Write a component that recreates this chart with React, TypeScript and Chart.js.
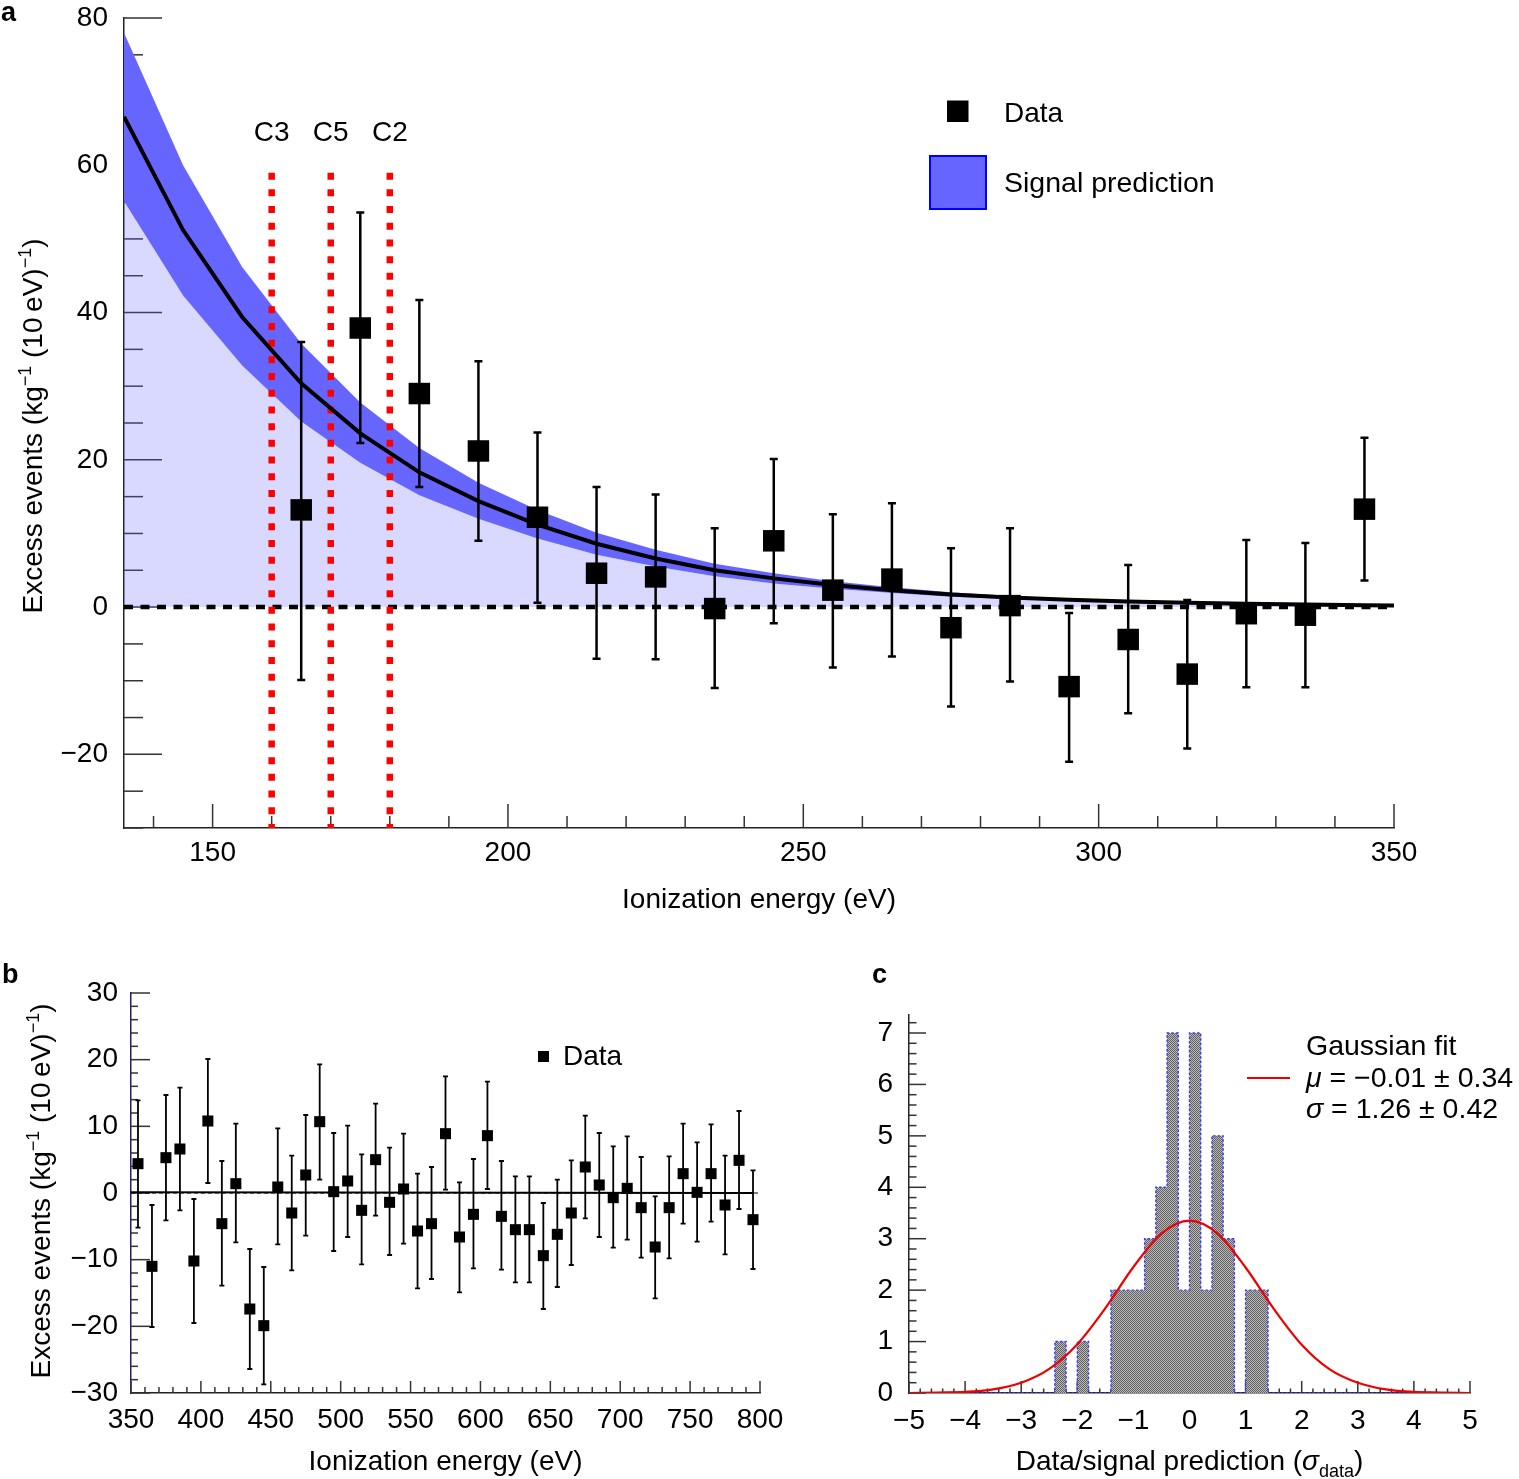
import React, { useEffect, useRef } from 'react';
import Chart from 'chart.js/auto';

const FONT = "'Liberation Sans', Arial, Helvetica, sans-serif";

// ---- panel a: 135-350 eV ----
const energyA = [165, 175, 185, 195, 205, 215, 225, 235, 245, 255, 265, 275, 285, 295, 305, 315, 325, 335, 345];
const excessA = [13.2, 37.9, 29.0, 21.2, 12.2, 4.6, 4.1, -0.2, 9.0, 2.3, 3.8, -2.8, 0.2, -10.8, -4.4, -9.1, -0.9, -1.1, 13.3];
const excessHighA = [36.0, 53.6, 41.7, 33.4, 23.7, 16.3, 15.3, 10.7, 20.1, 12.6, 14.1, 8.0, 10.7, -0.8, 5.7, 0.95, 9.1, 8.7, 23.0];
const excessLowA = [-9.9, 22.3, 16.3, 9.0, 0.6, -7.0, -7.1, -11.0, -2.2, -8.2, -6.7, -13.5, -10.1, -21.0, -14.4, -19.2, -10.9, -10.9, 3.6];

const signalEnergy = [135, 145, 155, 165, 175, 185, 195, 205, 215, 225, 235, 245, 255, 265, 275, 285, 295, 305, 315, 325, 335, 345, 350];
const signalCentral = [66.6, 51.2, 39.4, 30.4, 23.6, 18.3, 14.4, 11.2, 8.6, 6.6, 5.0, 3.9, 3.0, 2.3, 1.7, 1.3, 1.0, 0.75, 0.6, 0.45, 0.35, 0.25, 0.2];
const signalUpper = [78.0, 60.0, 46.2, 35.8, 27.8, 21.6, 16.9, 13.2, 10.1, 7.8, 5.9, 4.6, 3.5, 2.7, 2.0, 1.5, 1.15, 0.9, 0.7, 0.5, 0.4, 0.3, 0.25];
const signalLower = [55.1, 42.3, 32.8, 25.2, 19.6, 15.2, 12.0, 9.3, 7.1, 5.5, 4.2, 3.2, 2.5, 1.9, 1.4, 1.1, 0.85, 0.6, 0.5, 0.4, 0.3, 0.2, 0.15];

const cutEnergies = [160, 170, 180];
const cutNames = ['C3', 'C5', 'C2'];
const cutTop = 59;
const cutLabelLevel = 64.6;

const xTicksA = [150, 200, 250, 300, 350];
const yTicksA = [-20, 0, 20, 40, 60, 80];

// ---- panel b: 350-800 eV ----
const energyB = [355, 365, 375, 385, 395, 405, 415, 425, 435, 445, 455, 465, 475, 485, 495, 505, 515, 525, 535, 545, 555, 565, 575,
  585, 595, 605, 615, 625, 635, 645, 655, 665, 675, 685, 695, 705, 715, 725, 735, 745, 755, 765, 775, 785, 795];
const excessB = [4.4, -11.0, 5.3, 6.6, -10.2, 10.8, -4.6, 1.4, -17.4, -19.9, 0.9, -3.0, 2.7, 10.7, 0.2, 1.8, -2.6, 5.0, -1.4, 0.6, -5.7, -4.6, 8.9,
  -6.6, -3.2, 8.6, -3.5, -5.5, -5.5, -9.4, -6.2, -3.0, 3.9, 1.2, -0.7, 0.7, -2.2, -8.1, -2.2, 2.9, 0.1, 2.9, -1.8, 4.9, -4.0];
const excessHighB = [13.9, -1.8, 14.7, 15.8, -0.9, 20.1, 4.8, 10.4, -8.4, -11.1, 9.7, 5.6, 11.7, 19.3, 9.0, 10.1, 5.8, 13.4, 6.8, 8.9, 2.9, 3.9, 17.5,
  1.6, 5.1, 16.7, 4.8, 2.5, 2.5, -1.5, 2.0, 4.9, 11.6, 9.0, 7.0, 8.5, 5.4, -0.5, 5.5, 10.4, 7.6, 10.3, 5.6, 12.3, 3.4];
const excessLowB = [-5.2, -20.1, -4.1, -2.6, -19.5, 1.5, -13.9, -7.4, -26.4, -28.7, -7.7, -11.6, -6.4, 2.0, -8.7, -6.6, -10.7, -3.4, -9.3, -7.6, -14.3, -12.9, 0.5,
  -14.9, -11.3, 0.6, -11.5, -13.4, -13.4, -17.4, -14.1, -10.8, -3.8, -6.6, -8.2, -7.0, -9.7, -15.8, -9.8, -4.6, -7.3, -4.3, -9.2, -2.4, -11.4];
const signalEnergyB = [350, 795];
const signalB = [0.1, 0.0];

const xTicksB = [350, 400, 450, 500, 550, 600, 650, 700, 750, 800];
const yTicksB = [-30, -20, -10, 0, 10, 20, 30];

// ---- panel c: pull distribution ----
const histEdges = [-2.4, -2.2, -2.0, -1.8, -1.6, -1.4, -1.2, -1.0, -0.8, -0.6, -0.4, -0.2, 0.0, 0.2, 0.4, 0.6, 0.8, 1.0, 1.2];
const histCounts = [1, 0, 1, 0, 0, 2, 2, 2, 3, 4, 7, 2, 7, 2, 5, 3, 0, 2, 2];
const histWidth = 0.2;

const gaussX = [-5, -4.5, -4, -3.5, -3, -2.5, -2, -1.5, -1, -0.5, 0, 0.5, 1, 1.5, 2, 2.5, 3, 3.5, 4, 4.5, 5];
const gaussY = [0.0, 0.01, 0.02, 0.07, 0.2, 0.47, 0.95, 1.65, 2.45, 3.1, 3.35, 3.1, 2.44, 1.64, 0.94, 0.46, 0.2, 0.07, 0.02, 0.01, 0.0];

const xTicksC = [-5, -4, -3, -2, -1, 0, 1, 2, 3, 4, 5];
const yTicksC = [0, 1, 2, 3, 4, 5, 6, 7];

type Part = { t: string; sup?: boolean; sub?: boolean; it?: boolean };

const pts = (xs: number[], ys: number[]) => xs.map((x, i) => ({ x, y: ys[i] }));
const minus = (v: number | string) => {
  const n = Number(v);
  return n < 0 ? '\u2212' + Math.abs(n) : String(n);
};

// cy is the vertical middle of the capitals
function drawText(ctx: CanvasRenderingContext2D, content: string | Part[], x: number, cy: number,
  o: { size?: number; align?: 'left' | 'center'; bold?: boolean; rotate?: boolean } = {}) {
  const size = o.size ?? 28;
  const parts: Part[] = typeof content === 'string' ? [{ t: content }] : content;
  const fontOf = (p: Part) =>
    `${p.it ? 'italic ' : ''}${o.bold ? 'bold ' : ''}${p.sup || p.sub ? Math.round(size * 0.66) : size}px ${FONT}`;
  ctx.save();
  ctx.translate(x, cy);
  if (o.rotate) ctx.rotate(-Math.PI / 2);
  ctx.fillStyle = '#000';
  ctx.textBaseline = 'alphabetic';
  ctx.textAlign = 'left';
  const widths = parts.map((p) => {
    ctx.font = fontOf(p);
    return ctx.measureText(p.t).width;
  });
  const total = widths.reduce((a, b) => a + b, 0);
  let px = o.align === 'center' ? -total / 2 : 0;
  const base = size * 0.36;
  parts.forEach((p, i) => {
    ctx.font = fontOf(p);
    const dy = p.sup ? -size * 0.4 : p.sub ? size * 0.25 : 0;
    ctx.fillText(p.t, px, base + dy);
    px += widths[i];
  });
  ctx.restore();
}

const yTitle: Part[] = [
  { t: 'Excess events (kg' }, { t: '\u22121', sup: true }, { t: ' (10\u2009eV)' }, { t: '\u22121', sup: true }, { t: ')' },
];

function axis(o: { min: number; max: number; ticks: number[]; pad: number; size: number; horizontal: boolean; color?: string }) {
  return {
    type: 'linear',
    min: o.min,
    max: o.max,
    position: o.horizontal ? 'bottom' : 'left',
    grid: { display: false, drawTicks: false },
    border: { display: true, color: o.color ?? '#222', width: 1.5 },
    ticks: {
      padding: o.pad,
      color: '#000',
      font: { size: 28, family: FONT, lineHeight: 1 },
      autoSkip: false,
      maxRotation: 0,
      callback: minus,
    },
    afterBuildTicks: (scale: any) => {
      scale.ticks = o.ticks.map((v) => ({ value: v }));
    },
    afterFit: (scale: any) => {
      if (o.horizontal) scale.height = o.size;
      else scale.width = o.size;
      // the chart area is pinned by the layout padding alone
      scale.paddingTop = 0;
      scale.paddingBottom = 0;
      scale.paddingLeft = 0;
      scale.paddingRight = 0;
    },
  };
}

type TickSpec = { axis: 'x' | 'y'; from: number; to: number; step: number; major: number; majorLen: number; minorLen: number };

const inwardTicks = (specs: TickSpec[]) => ({
  id: 'inwardTicks',
  beforeDatasetsDraw(chart: any) {
    const { ctx, chartArea } = chart;
    ctx.save();
    ctx.strokeStyle = '#333';
    ctx.lineWidth = 1.5;
    specs.forEach((s) => {
      const scale = chart.scales[s.axis];
      const n = Math.round((s.to - s.from) / s.step);
      for (let i = 0; i <= n; i++) {
        const v = s.from + i * s.step;
        const isMajor = Math.abs(v / s.major - Math.round(v / s.major)) < 1e-6;
        const len = isMajor ? s.majorLen : s.minorLen;
        const p = scale.getPixelForValue(v);
        ctx.beginPath();
        if (s.axis === 'x') {
          ctx.moveTo(p, chartArea.bottom);
          ctx.lineTo(p, chartArea.bottom - len);
        } else {
          ctx.moveTo(chartArea.left, p);
          ctx.lineTo(chartArea.left + len, p);
        }
        ctx.stroke();
      }
    });
    ctx.restore();
  },
});

const errorBars = (xs: number[], lows: number[], highs: number[], cap: number, width: number) => ({
  id: 'errorBars',
  afterDatasetsDraw(chart: any) {
    const { ctx, scales } = chart;
    ctx.save();
    ctx.strokeStyle = '#000';
    ctx.lineWidth = width;
    xs.forEach((x, i) => {
      const px = scales.x.getPixelForValue(x);
      const lo = scales.y.getPixelForValue(lows[i]);
      const hi = scales.y.getPixelForValue(highs[i]);
      ctx.beginPath();
      ctx.moveTo(px, lo);
      ctx.lineTo(px, hi);
      ctx.moveTo(px - cap, lo);
      ctx.lineTo(px + cap, lo);
      ctx.moveTo(px - cap, hi);
      ctx.lineTo(px + cap, hi);
      ctx.stroke();
    });
    ctx.restore();
  },
});

const annotate = (draw: (ctx: CanvasRenderingContext2D, chart: any) => void) => ({
  id: 'annotate',
  afterDraw(chart: any) {
    draw(chart.ctx, chart);
  },
});

const baseOptions = (padding: any, scales: any) => ({
  responsive: false,
  animation: false,
  events: [],
  layout: { padding },
  plugins: { legend: { display: false }, tooltip: { enabled: false } },
  scales,
});

function makeA(ctx: CanvasRenderingContext2D) {
  return new Chart(ctx, {
    type: 'line',
    data: {
      datasets: [
        { data: pts(signalEnergy, signalLower), fill: 'origin', backgroundColor: 'rgba(102,102,255,0.25)', borderWidth: 0, pointRadius: 0, order: 6 },
        { data: pts(signalEnergy, signalUpper), fill: '-1', backgroundColor: '#6666ff', borderWidth: 0, pointRadius: 0, order: 5 },
        { data: [{ x: 135, y: 0 }, { x: 350, y: 0 }], borderColor: '#000', borderWidth: 4.5, borderDash: [9, 7.5], pointRadius: 0, fill: false, order: 4 },
        ...cutEnergies.map((e) => ({
          data: [{ x: e, y: cutTop }, { x: e, y: -30 }], borderColor: '#ff0000', borderWidth: 6.5, borderDash: [7, 9.7],
          pointRadius: 0, fill: false, order: 3,
        })),
        { data: pts(signalEnergy, signalCentral), borderColor: '#000', borderWidth: 4, pointRadius: 0, fill: false, tension: 0, order: 2 },
        {
          data: pts(energyA, excessA), showLine: false, pointStyle: 'rect', pointRadius: 15.2,
          pointBackgroundColor: '#000', pointBorderWidth: 0, order: 1,
        },
      ],
    } as any,
    options: baseOptions({ left: 0, right: 125, top: 18, bottom: 0 }, {
      x: axis({ min: 135, max: 350, ticks: xTicksA, pad: 11, size: 102, horizontal: true }),
      y: axis({ min: -30, max: 80, ticks: yTicksA, pad: 16, size: 124, horizontal: false }),
    }) as any,
    plugins: [
      inwardTicks([
        { axis: 'y', from: -30, to: 80, step: 5, major: 20, majorLen: 38, minorLen: 19 },
        { axis: 'x', from: 140, to: 350, step: 10, major: 50, majorLen: 24, minorLen: 12 },
      ]),
      errorBars(energyA, excessLowA, excessHighA, 4, 2.5),
      annotate((c, chart) => {
        const { x, y } = chart.scales;
        const area = chart.chartArea;
        drawText(c, 'a', 1, 11, { size: 27, bold: true });
        cutEnergies.forEach((e, i) =>
          drawText(c, cutNames[i], x.getPixelForValue(e), y.getPixelForValue(cutLabelLevel), { align: 'center' }));
        c.fillStyle = '#000';
        c.fillRect(947, 100.5, 21.5, 21.5);
        drawText(c, 'Data', 1004, 112);
        c.fillStyle = '#6666ff';
        c.fillRect(930, 156, 56, 53);
        c.strokeStyle = '#0000ff';
        c.lineWidth = 2;
        c.strokeRect(930, 156, 56, 53);
        drawText(c, 'Signal prediction', 1004, 182, { size: 28.5 });
        drawText(c, yTitle, 32, 426, { align: 'center', rotate: true });
        drawText(c, 'Ionization energy (eV)', (area.left + area.right) / 2, 898, { align: 'center' });
      }),
    ],
  });
}

function makeB(ctx: CanvasRenderingContext2D) {
  return new Chart(ctx, {
    type: 'line',
    data: {
      datasets: [
        { data: [{ x: 350, y: 0 }, { x: 800, y: 0 }], borderColor: '#000', borderWidth: 1, borderDash: [4, 3], pointRadius: 0, fill: false, order: 3 },
        { data: pts(signalEnergyB, signalB), borderColor: '#000', borderWidth: 2, pointRadius: 0, fill: false, order: 2 },
        {
          data: pts(energyB, excessB), showLine: false, pointStyle: 'rect', pointRadius: 7.8,
          pointBackgroundColor: '#000', pointBorderWidth: 0, order: 1,
        },
      ],
    } as any,
    options: baseOptions({ left: 0, right: 70, top: 53, bottom: 0 }, {
      x: axis({ min: 350, max: 800, ticks: xTicksB, pad: 13, size: 86, horizontal: true }),
      y: axis({ min: -30, max: 30, ticks: yTicksB, pad: 13, size: 131, horizontal: false, color: '#20206a' }),
    }) as any,
    plugins: [
      inwardTicks([
        { axis: 'y', from: -30, to: 30, step: 2, major: 10, majorLen: 19, minorLen: 7 },
        { axis: 'x', from: 350, to: 800, step: 10, major: 50, majorLen: 12, minorLen: 6 },
      ]),
      errorBars(energyB, excessLowB, excessHighB, 2.5, 1.8),
      annotate((c, chart) => {
        const area = chart.chartArea;
        drawText(c, 'b', 2, 33, { size: 27, bold: true });
        c.fillStyle = '#000';
        c.fillRect(538, 111, 11, 11);
        drawText(c, 'Data', 563, 115);
        drawText(c, yTitle, 40, 251, { align: 'center', rotate: true });
        drawText(c, 'Ionization energy (eV)', (area.left + area.right) / 2, 520, { align: 'center' });
      }),
    ],
  });
}

function stipple(): CanvasPattern | string {
  const tile = document.createElement('canvas');
  tile.width = 2;
  tile.height = 2;
  const g = tile.getContext('2d');
  if (!g) return '#888';
  g.fillStyle = '#b8b8b8';
  g.fillRect(0, 0, 2, 2);
  g.fillStyle = '#626262';
  g.fillRect(0, 0, 1, 1);
  g.fillRect(1, 1, 1, 1);
  return g.createPattern(tile, 'repeat') ?? '#888';
}

function makeC(ctx: CanvasRenderingContext2D) {
  const last = histEdges[histEdges.length - 1] + histWidth;
  const steps = [{ x: -5, y: 0 }, ...pts(histEdges, histCounts), { x: last, y: 0 }, { x: 5, y: 0 }];
  return new Chart(ctx, {
    type: 'line',
    data: {
      datasets: [
        {
          data: steps, stepped: true, fill: 'origin', backgroundColor: stipple(), borderColor: '#3a3aff',
          borderWidth: 1.4, borderDash: [2.5, 2], pointRadius: 0, order: 2,
        },
        {
          data: pts(gaussX, gaussY), borderColor: '#ee0000', borderWidth: 2.2, cubicInterpolationMode: 'monotone',
          pointRadius: 0, fill: false, order: 1,
        },
      ],
    } as any,
    options: baseOptions({ left: 0, right: 49, top: 75, bottom: 0 }, {
      x: axis({ min: -5, max: 5, ticks: xTicksC, pad: 14, size: 86, horizontal: true }),
      y: axis({ min: 0, max: 7.35, ticks: yTicksC, pad: 16, size: 69, horizontal: false }),
    }) as any,
    plugins: [
      inwardTicks([
        { axis: 'y', from: 0, to: 7.2, step: 0.2, major: 1, majorLen: 17, minorLen: 7.5 },
        { axis: 'x', from: -5, to: 5, step: 0.2, major: 1, majorLen: 12, minorLen: 4.5 },
      ]),
      annotate((c, chart) => {
        const area = chart.chartArea;
        drawText(c, 'c', 32, 33, { size: 27, bold: true });
        c.strokeStyle = '#ee0000';
        c.lineWidth = 2;
        c.beginPath();
        c.moveTo(407, 138);
        c.lineTo(450, 138);
        c.stroke();
        drawText(c, 'Gaussian fit', 466, 105, { size: 28.5 });
        drawText(c, [{ t: '\u03bc', it: true }, { t: ' = \u22120.01 \u00b1 0.34' }], 466, 137, { size: 28.5 });
        drawText(c, [{ t: '\u03c3', it: true }, { t: ' = 1.26 \u00b1 0.42' }], 466, 168, { size: 28.5 });
        drawText(c, [{ t: 'Data/signal prediction (' }, { t: '\u03c3', it: true }, { t: 'data', sub: true }, { t: ')' }],
          (area.left + area.right) / 2, 520, { align: 'center' });
      }),
    ],
  });
}

type Box = { left: number; top: number; width: number; height: number };

const ChartBox: React.FC<{ box: Box; make: (ctx: CanvasRenderingContext2D) => Chart }> = ({ box, make }) => {
  const canvasRef = useRef<HTMLCanvasElement>(null);

  useEffect(() => {
    if (!canvasRef.current) return;
    const ctx = canvasRef.current.getContext('2d');
    if (!ctx) return;
    const chart = make(ctx);
    return () => {
      chart.destroy();
    };
  }, [make]);

  return (
    <canvas
      ref={canvasRef}
      width={box.width}
      height={box.height}
      style={{ position: 'absolute', left: box.left, top: box.top, width: box.width, height: box.height }}
    />
  );
};

const App: React.FC = () => {
  return (
    <div style={{ position: 'absolute', left: 0, top: 0, width: 1519, height: 1479, background: '#fff', fontFamily: FONT }}>
      <ChartBox box={{ left: 0, top: 0, width: 1519, height: 930 }} make={makeA} />
      <ChartBox box={{ left: 0, top: 940, width: 830, height: 539 }} make={makeB} />
      <ChartBox box={{ left: 840, top: 940, width: 679, height: 539 }} make={makeC} />
    </div>
  );
};

export default App;
